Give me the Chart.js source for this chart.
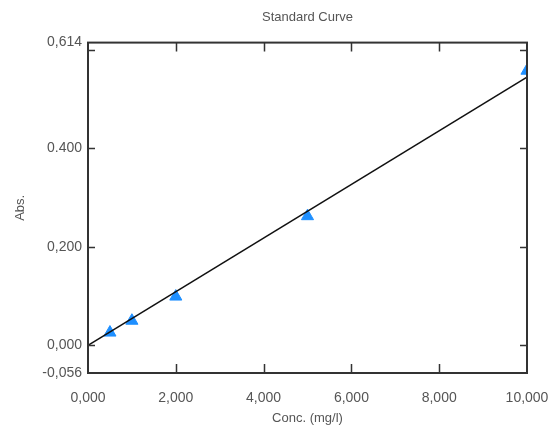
<!DOCTYPE html>
<html>
<head>
<meta charset="utf-8">
<script src="https://cdn.jsdelivr.net/npm/chart.js@4"></script>
<style>
  html, body { margin: 0; padding: 0; background: #fff; }
  #wrap { width: 551px; height: 429px; }
</style>
</head>
<body>
<div id="wrap"><canvas id="curve"></canvas></div>
<script>
// standards
const conc = [500, 1000, 2000, 5000, 10000];
const absorb = [0.026, 0.050, 0.099, 0.262, 0.557];
// fitted line ends
const fitX = [0, 10000];
const fitY = [0, 0.544];
const yTicks = [-0.056, 0, 0.2, 0.4, 0.614];
const yLabels = ["-0,056", "0,000", "0,200", "0.400", "0,614"];
const xTicks = [0, 2000, 4000, 6000, 8000, 10000];
const xLabels = ["0,000", "2,000", "4,000", "6,000", "8,000", "10,000"];

const txt = "#555";
const font = { family: "Liberation Sans, Arial, sans-serif", size: 14 };
const titleFont = { family: "Liberation Sans, Arial, sans-serif", size: 13, weight: "normal" };

// frame + inward tick marks on all four sides
const frame = {
  id: "frame",
  afterDraw(chart) {
    const { ctx, chartArea: a, scales } = chart;
    ctx.save();
    ctx.strokeStyle = "#333";
    ctx.lineWidth = 1.5;
    ctx.beginPath();
    xTicks.slice(1, -1).forEach(v => {
      const px = Math.round(scales.x.getPixelForValue(v)) + 0.5;
      ctx.moveTo(px, a.bottom); ctx.lineTo(px, a.bottom - 9);
      ctx.moveTo(px, a.top); ctx.lineTo(px, a.top + 9);
    });
    yTicks.slice(1).forEach(v => {
      let py = Math.round(scales.y.getPixelForValue(v)) + 0.5;
      if (v === yTicks[yTicks.length - 1]) py += 7;
      ctx.moveTo(a.left, py); ctx.lineTo(a.left + 7, py);
      ctx.moveTo(a.right, py); ctx.lineTo(a.right - 7, py);
    });
    ctx.stroke();
    ctx.lineWidth = 2;
    ctx.strokeRect(a.left, a.top, a.right - a.left, a.bottom - a.top);
    ctx.restore();
  }
};

new Chart(document.getElementById("curve"), {
  type: "scatter",
  data: {
    datasets: [
      {
        label: "Fit",
        data: fitX.map((x, i) => ({ x: x, y: fitY[i] })),
        showLine: true,
        borderColor: "#111",
        borderWidth: 1.5,
        pointRadius: 0
      },
      {
        label: "Standards",
        data: conc.map((x, i) => ({ x: x, y: absorb[i] })),
        pointStyle: "triangle",
        pointRadius: 7,
        backgroundColor: "#1e8fff",
        borderColor: "#1e8fff",
        borderWidth: 1
      }
    ]
  },
  options: {
    responsive: true,
    maintainAspectRatio: false,
    animation: false,
    layout: { padding: { right: 24 } },
    plugins: {
      legend: { display: false },
      tooltip: { enabled: false },
      title: {
        display: true,
        fullSize: false,
        text: "Standard Curve",
        color: txt,
        font: titleFont,
        padding: { top: 10, bottom: 17 }
      }
    },
    scales: {
      x: {
        type: "linear",
        min: 0,
        max: 10000,
        afterBuildTicks: s => { s.ticks = xTicks.map(v => ({ value: v })); },
        afterFit: s => { s.height = 56; s.paddingLeft = 0; s.paddingRight = 0; },
        grid: { display: false, drawTicks: false },
        border: { display: false },
        ticks: {
          color: txt,
          font: font,
          padding: 17,
          maxRotation: 0,
          callback: (v, i) => xLabels[i]
        },
        title: {
          display: true,
          text: "Conc. (mg/l)",
          color: txt,
          font: titleFont,
          padding: { top: 0, bottom: 3 }
        }
      },
      y: {
        type: "linear",
        min: -0.056,
        max: 0.614,
        afterBuildTicks: s => { s.ticks = yTicks.map(v => ({ value: v })); },
        afterFit: s => { s.width = 88; s.paddingTop = 0; s.paddingBottom = 0; },
        grid: { display: false, drawTicks: false },
        border: { display: false },
        ticks: {
          color: txt,
          font: font,
          padding: 6,
          callback: (v, i) => yLabels[i]
        },
        title: {
          display: true,
          text: "Abs.",
          color: txt,
          font: titleFont,
          padding: { top: 13, bottom: 0 }
        }
      }
    }
  },
  plugins: [frame]
});
</script>
</body>
</html>
